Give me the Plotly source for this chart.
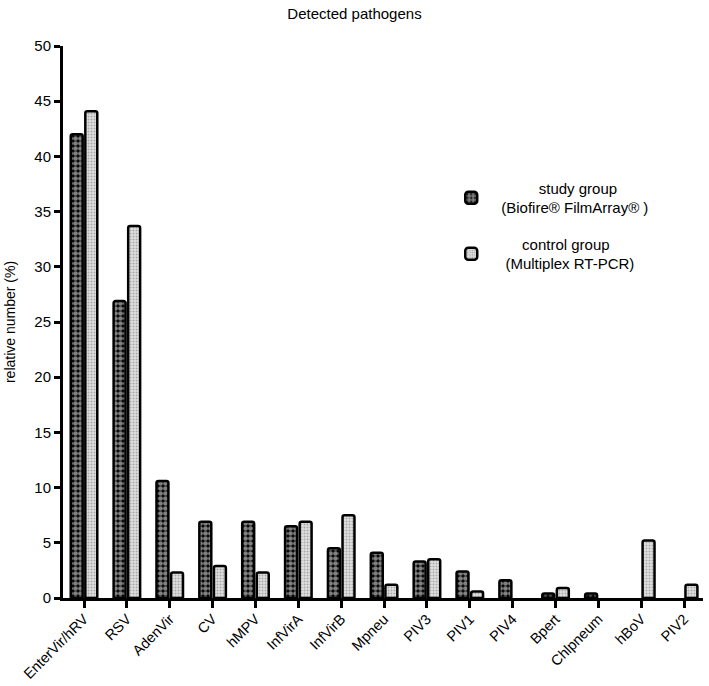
import plotly.graph_objects as go

categories = ["EnterVir/hRV", "RSV", "AdenVir", "CV", "hMPV", "InfVirA", "InfVirB",
              "Mpneu", "PIV3", "PIV1", "PIV4", "Bpert", "Chlpneum", "hBoV", "PIV2"]
study_values = [42.0, 26.9, 10.6, 6.9, 6.9, 6.5, 4.5, 4.1, 3.3, 2.4, 1.6, 0.4, 0.4, 0.0, 0.0]
control_values = [44.1, 33.7, 2.3, 2.9, 2.3, 6.9, 7.5, 1.2, 3.5, 0.6, 0.0, 0.9, 0.0, 5.2, 1.2]
study_name = "&nbsp;&nbsp;&nbsp;&nbsp;&nbsp;&nbsp;&nbsp;&nbsp;&nbsp;study group<br>(Biofire® FilmArray® )"
control_name = "&nbsp;&nbsp;&nbsp;&nbsp;&nbsp;control group<br>&nbsp;(Multiplex RT-PCR)"
y_ticks = [0, 5, 10, 15, 20, 25, 30, 35, 40, 45, 50]

font_family = "Liberation Sans, Arial, sans-serif"


def outline_widths(values):
    return [0 if v == 0 else 2.5 for v in values]


fig = go.Figure()
fig.add_trace(go.Bar(
    x=categories, y=study_values, name=study_name, legendgroup="a",
    marker=dict(color="black",
                line=dict(color="black", width=outline_widths(study_values)),
                pattern=dict(shape=".", bgcolor="black", fgcolor="white",
                             size=5, solidity=0.7, fillmode="overlay"),
                cornerradius=2),
))
fig.add_trace(go.Bar(
    x=categories, y=control_values, name=control_name, legendgroup="b",
    marker=dict(color="white",
                line=dict(color="black", width=outline_widths(control_values)),
                pattern=dict(shape=".", bgcolor="#e0e0e0", fgcolor="#707070",
                             size=3, solidity=0.35, fillmode="overlay"),
                cornerradius=2),
))

fig.update_layout(
    width=709, height=686,
    margin=dict(l=63, r=6, t=46, b=88, autoexpand=False),
    paper_bgcolor="white", plot_bgcolor="white",
    font=dict(family=font_family, size=15, color="black"),
    title=dict(text="Detected pathogens", x=0.5, xanchor="center", y=0.988, yanchor="top",
               font=dict(size=15, family=font_family)),
    barmode="group", bargap=0.32, bargroupgap=0.18,
    showlegend=True,
    legend=dict(x=0.591, y=0.772, xanchor="left", yanchor="top",
                font=dict(size=15, family=font_family),
                bgcolor="rgba(0,0,0,0)", tracegroupgap=14, traceorder="grouped",
                itemwidth=50),
)
fig.update_xaxes(
    range=[-0.49, 14.44], showline=True, linecolor="black", linewidth=3,
    ticks="outside", ticklen=7, tickwidth=2.5, tickcolor="black",
    tickangle=-45, tickfont=dict(size=14.5), showgrid=False, zeroline=False,
    automargin=False, ticklabelstandoff=-3,
)
fig.update_yaxes(
    range=[0, 50], tickvals=y_ticks, showline=True, linecolor="black", linewidth=3,
    ticks="outside", ticklen=6, tickwidth=2.5, tickcolor="black",
    tickfont=dict(size=15), showgrid=False, zeroline=False, automargin=False,
    title=dict(text="relative number (%)", font=dict(size=14), standoff=16),
)

fig.write_html("out.html", config={"displayModeBar": False},
               post_script="document.body.style.margin='0';")
